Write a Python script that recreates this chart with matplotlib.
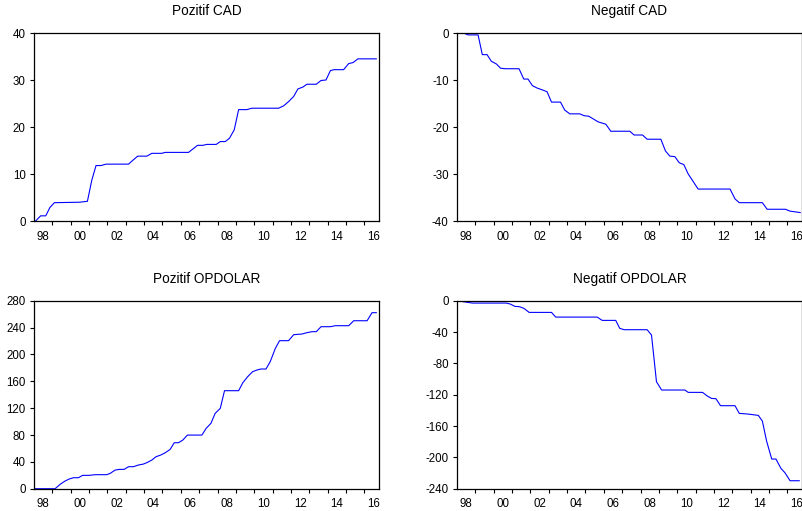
import numpy as np
import matplotlib.pyplot as plt

# vertices (decimal year, value)
pos_cad_x = [1998.09, 1998.36, 1998.64, 1998.87, 1999.11, 2000.50, 2000.91, 2001.15, 2001.38, 2001.65,
             2001.93, 2003.15, 2003.38, 2003.65, 2004.15, 2004.42, 2004.96, 2005.15, 2006.42, 2006.65,
             2006.91, 2007.20, 2007.42, 2007.93, 2008.15, 2008.42, 2008.65, 2008.91, 2009.15, 2009.60,
             2009.87, 2011.33, 2011.60, 2011.87, 2012.15, 2012.38, 2012.65, 2012.87, 2013.38, 2013.64,
             2013.91, 2014.15, 2014.35, 2014.87, 2015.15, 2015.38, 2015.65, 2016.65]
pos_cad_y = [0.0, 1.1, 1.1, 2.9, 3.9, 4.0, 4.2, 8.7, 11.8, 11.8,
             12.1, 12.1, 12.9, 13.8, 13.8, 14.4, 14.4, 14.6, 14.6, 15.3,
             16.1, 16.1, 16.3, 16.3, 16.9, 16.9, 17.6, 19.4, 23.7, 23.7,
             24.0, 24.0, 24.5, 25.4, 26.5, 28.1, 28.5, 29.1, 29.1, 29.9,
             30.0, 32.0, 32.2, 32.2, 33.5, 33.7, 34.5, 34.5]

neg_cad_x = [1998.00, 1998.36, 1998.60, 1999.15, 1999.38, 1999.64, 1999.87, 2000.15, 2000.38, 2000.65,
             2001.38, 2001.64, 2001.87, 2002.11, 2002.36, 2002.65, 2002.91, 2003.15, 2003.64, 2003.87,
             2004.15, 2004.69, 2004.93, 2005.18, 2005.69, 2006.11, 2006.38, 2007.42, 2007.65, 2008.11,
             2008.36, 2009.11, 2009.36, 2009.60, 2009.87, 2010.11, 2010.36, 2010.60, 2011.14, 2012.88,
             2013.15, 2013.38, 2014.64, 2014.90, 2015.90, 2016.15, 2016.70]
neg_cad_y = [0.0, 0.0, -0.4, -0.4, -4.6, -4.6, -6.0, -6.6, -7.5, -7.6,
             -7.6, -9.8, -9.8, -11.2, -11.7, -12.1, -12.5, -14.7, -14.7, -16.4,
             -17.2, -17.2, -17.6, -17.7, -18.9, -19.4, -20.9, -20.9, -21.7, -21.7,
             -22.6, -22.6, -25.1, -26.2, -26.3, -27.6, -28.0, -30.0, -33.2, -33.2,
             -35.3, -36.1, -36.1, -37.5, -37.5, -37.9, -38.2]

pos_op_x = [1998.05, 1999.15, 1999.42, 1999.69, 1999.91, 2000.15, 2000.42, 2000.65, 2001.00, 2001.33,
            2001.96, 2002.15, 2002.42, 2002.65, 2002.91, 2003.15, 2003.42, 2003.69, 2003.96, 2004.18,
            2004.42, 2004.65, 2004.91, 2005.15, 2005.42, 2005.64, 2005.87, 2006.11, 2006.36, 2007.15,
            2007.38, 2007.64, 2007.87, 2008.15, 2008.38, 2009.15, 2009.38, 2009.64, 2009.91, 2010.15,
            2010.36, 2010.64, 2010.87, 2011.15, 2011.38, 2011.87, 2012.15, 2012.60, 2012.87, 2013.15,
            2013.38, 2013.64, 2014.15, 2014.42, 2015.15, 2015.42, 2016.15, 2016.42, 2016.65]
pos_op_y = [0.0, 0.0, 6.5, 11.4, 14.4, 16.4, 16.4, 19.9, 19.9, 20.9,
            20.9, 22.8, 27.8, 28.8, 28.8, 32.8, 32.8, 35.3, 36.7, 39.2,
            42.7, 47.7, 50.2, 53.6, 58.6, 68.5, 68.5, 72.5, 79.9, 79.9,
            89.9, 97.3, 112.2, 119.7, 146.0, 146.0, 157.9, 166.8, 174.3, 176.8,
            178.3, 178.3, 189.2, 209.0, 220.5, 220.5, 229.4, 230.4, 232.4, 233.9,
            233.9, 241.3, 241.3, 242.8, 242.8, 250.2, 250.2, 262.2, 262.2]

neg_op_x = [1998.00, 1998.36, 1998.84, 2000.69, 2000.91, 2001.15, 2001.42, 2001.65, 2001.93, 2003.15,
            2003.38, 2005.64, 2005.91, 2006.65, 2006.87, 2007.11, 2008.36, 2008.60, 2008.87, 2009.15,
            2010.42, 2010.60, 2011.38, 2011.64, 2011.87, 2012.11, 2012.36, 2013.15, 2013.38, 2013.87,
            2014.42, 2014.64, 2014.87, 2015.15, 2015.38, 2015.65, 2015.87, 2016.15, 2016.65]
neg_op_y = [0.0, -1.3, -3.0, -3.0, -4.3, -7.2, -7.7, -9.8, -14.9, -14.9,
            -20.9, -20.9, -25.1, -25.1, -35.3, -37.0, -37.0, -43.8, -103.4, -114.0,
            -114.0, -117.0, -117.0, -121.7, -124.7, -125.1, -134.0, -134.0, -143.8, -144.7,
            -146.4, -153.6, -179.1, -202.1, -202.1, -214.0, -219.6, -229.8, -229.8]

titles = ["Pozitif CAD", "Negatif CAD", "Pozitif OPDOLAR", "Negatif OPDOLAR"]
ylims = [(0, 40), (-40, 0), (0, 280), (-240, 0)]
ysteps = [10, 10, 40, 40]
year_labels = ["98", "00", "02", "04", "06", "08", "10", "12", "14", "16"]

plt.rcParams['font.family'] = ['Liberation Sans', 'DejaVu Sans']
plt.rcParams['axes.unicode_minus'] = False

fig = plt.figure(figsize=(8.02, 5.11), dpi=100)
rects = [[0.0424, 0.5675, 0.4302, 0.3679], [0.5698, 0.5675, 0.4302, 0.3679],
         [0.0424, 0.0436, 0.4302, 0.3679], [0.5698, 0.0436, 0.4302, 0.3679]]
series = [(pos_cad_x, pos_cad_y), (neg_cad_x, neg_cad_y),
          (pos_op_x, pos_op_y), (neg_op_x, neg_op_y)]

for rect, (xs, ys), title, yl, st in zip(rects, series, titles, ylims, ysteps):
    ax = fig.add_axes(rect)
    ax.plot(xs, ys, color='#0000ff', lw=0.8)
    ax.set_xlim(1998, 2016.8)
    ax.set_ylim(*yl)
    ax.set_yticks(np.arange(yl[0], yl[1] + 1, st))
    # ticks at year boundaries, labels in the middle of even years
    ax.set_xticks(np.arange(1999, 2017))
    ax.set_xticklabels([])
    ax.set_xticks(np.arange(1998.5, 2017, 2), minor=True)
    ax.set_xticklabels(year_labels, minor=True)
    ax.tick_params(axis='x', which='major', direction='out', length=3, width=0.8)
    ax.tick_params(axis='x', which='minor', length=0, pad=7, labelsize=8.3)
    ax.tick_params(axis='y', direction='out', length=3, width=0.8, pad=3, labelsize=8.3)
    for s in ax.spines.values():
        s.set_linewidth(0.9)
    ax.set_title(title, fontsize=9.8, pad=13)

fig.savefig("out.png", dpi=100)
